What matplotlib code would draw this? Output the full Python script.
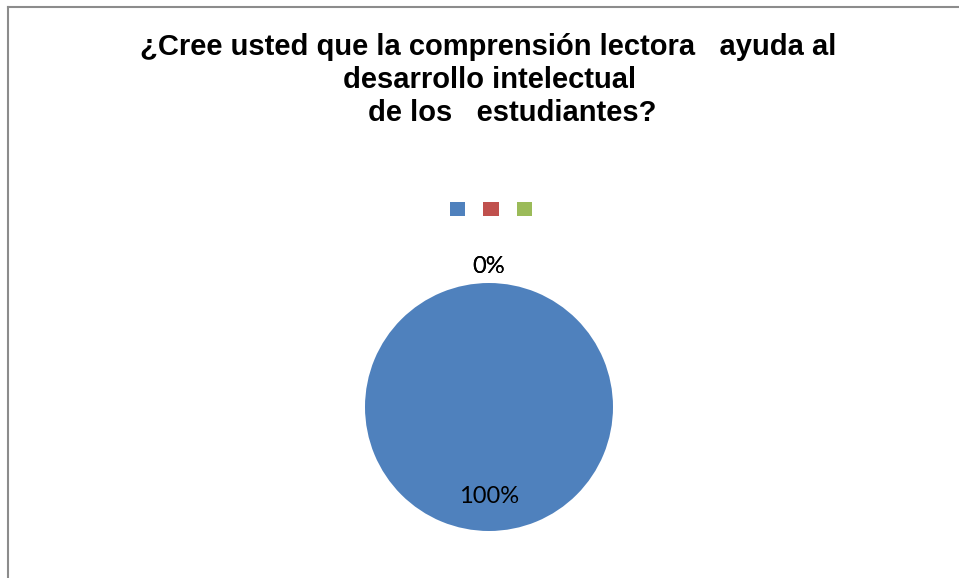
import matplotlib.pyplot as plt
from matplotlib.lines import Line2D
import numpy as np

# data
categories = ['Sí', 'No', 'A veces']
values = [100, 0, 0]
colors = ['#4F81BD', '#C0504D', '#9BBB59']
title_lines = ['¿Cree usted que la comprensión lectora   ayuda al',
               'desarrollo intelectual',
               'de los   estudiantes?']

W, H = 959, 578
fig = plt.figure(figsize=(W / 100, H / 100), dpi=100)

# chart border (left and top only, the rest is cut off)
fig.add_artist(Line2D([8 / W, 8 / W], [0, 1 - 7 / H], color='#8c8c8c', lw=1.5))
fig.add_artist(Line2D([8 / W, 1], [1 - 7 / H, 1 - 7 / H], color='#8c8c8c', lw=1.5))

# title, one line at a time
for txt, xc, yc in zip(title_lines, [488, 490, 512], [47, 80, 113]):
    fig.text(xc / W, 1 - yc / H, txt, ha='center', va='center',
             fontsize=21, fontweight='bold', family='Liberation Sans')

cx, cy, r = 489, 407, 124
ax = fig.add_axes([(cx - r) / W, (H - cy - r) / H, 2 * r / W, 2 * r / H])
wedges, _, pcts = ax.pie(values, colors=colors, startangle=90, counterclock=False,
                         autopct=lambda p: f'{p:.0f}%', pctdistance=0.72,
                         textprops={'fontsize': 17, 'family': 'Lato'})
for w, t, v in zip(wedges, pcts, values):
    if v == 0:
        ang = np.deg2rad(w.theta1)
        t.set_position((1.13 * np.cos(ang), 1.13 * np.sin(ang)))
ax.set_xlim(-1, 1)
ax.set_ylim(-1, 1)
ax.set_aspect('equal')
ax.axis('off')

fig.legend(wedges, ['', '', ''], ncol=3, loc='center', bbox_to_anchor=(491 / W, 1 - 210 / H),
           frameon=False, fontsize=11, handlelength=1.0, handleheight=1.0,
           handletextpad=0, columnspacing=1.18)

fig.savefig('out.png', dpi=100)
